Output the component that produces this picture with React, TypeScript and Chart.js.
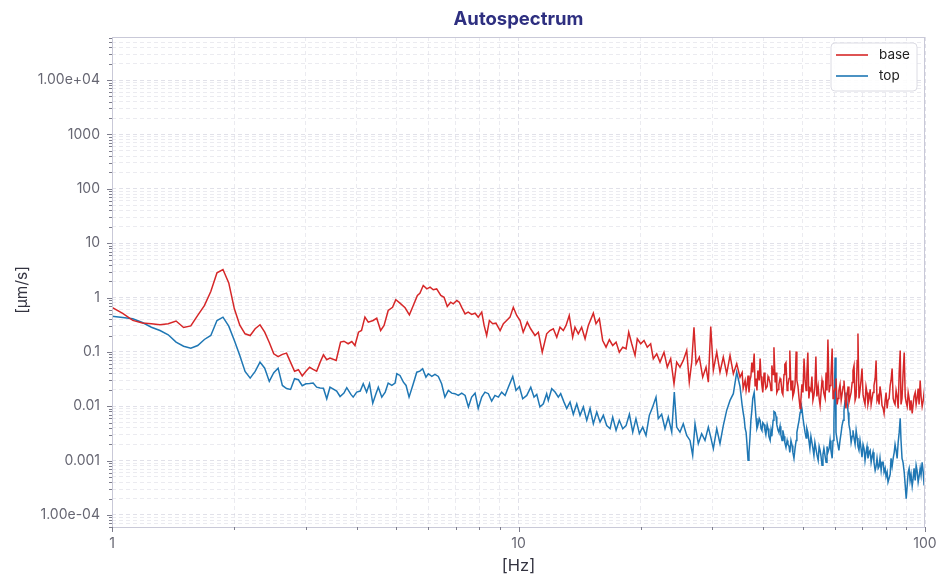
import React, { useEffect, useRef } from "react";
import { Chart, registerables } from "chart.js";

Chart.register(...registerables);

const chartTitle = "Autospectrum";
const xAxisTitle = "[Hz]";
const yAxisTitle = "[μm/s]";
const seriesLabels = ["base", "top"];
const seriesColors = ["#d62728", "#1f77b4"];

const xMajorTicks = [1, 10, 100];
const xTickLabels = ["1", "10", "100"];
const yMajorTicks = [1e-4, 1e-3, 0.01, 0.1, 1, 10, 100, 1000, 1e4];
const yTickLabels = ["1.00e-04", "0.001", "0.01", "0.1", "1", "10", "100", "1000", "1.00e+04"];
const xRange = [1, 100];
const yRange = [6e-5, 6.2e4];

// 1 Hz – 35 Hz, base
const baseLoHz = [
  1.0, 1.0625, 1.125, 1.1875, 1.25, 1.3125, 1.375, 1.4375, 1.5, 1.5625,
  1.625, 1.6875, 1.75, 1.8125, 1.875, 1.9375, 2.0, 2.0625, 2.125, 2.1875,
  2.25, 2.3125, 2.375, 2.4375, 2.5, 2.5625, 2.625, 2.6875, 2.75, 2.8125,
  2.875, 2.9375, 3.0, 3.0625, 3.125, 3.1875, 3.25, 3.3125, 3.375, 3.4375,
  3.56, 3.65, 3.72, 3.81, 3.89, 3.96, 4.04, 4.11, 4.19, 4.27,
  4.39, 4.48, 4.58, 4.67, 4.78, 4.9, 4.99, 5.11, 5.26, 5.39,
  5.51, 5.64, 5.72, 5.83, 5.95, 6.06, 6.17, 6.29, 6.44, 6.56,
  6.68, 6.81, 6.91, 7.05, 7.15, 7.25, 7.39, 7.52, 7.67, 7.82,
  7.96, 8.12, 8.23, 8.35, 8.48, 8.64, 8.8, 9.01, 9.18, 9.35,
  9.53, 9.71, 9.9, 10.09, 10.27, 10.51, 10.71, 10.98, 11.19, 11.44,
  11.73, 11.95,
  12.18, 12.42, 12.65, 12.89, 13.09, 13.33, 13.59, 13.77, 14.03, 14.3,
  14.58, 14.85, 15.14, 15.28, 15.51, 15.81, 16.11, 16.42, 16.73, 17.05,
  17.38, 17.7, 18.05, 18.39, 18.67, 18.99, 19.35, 19.6, 19.98, 20.36,
  20.74, 21.14, 21.46, 21.88, 22.29, 22.8, 23.23, 23.68, 24.13, 24.5,
  24.96, 25.43, 25.93, 26.31, 26.68, 27.02, 27.34, 27.85, 28.39, 28.93,
  29.31, 29.71, 30.15, 30.74, 31.31, 31.9, 32.52, 33.14, 33.77, 34.42,
  35.07,
];

const baseLoAmp = [
  0.66, 0.51, 0.38, 0.34, 0.33, 0.315, 0.33, 0.37, 0.28, 0.3,
  0.47, 0.71, 1.29, 2.84, 3.27, 1.86, 0.62, 0.31, 0.215, 0.2,
  0.266, 0.315, 0.23, 0.149, 0.092, 0.082, 0.09, 0.095, 0.064, 0.044,
  0.047, 0.036, 0.044, 0.052, 0.0475, 0.044, 0.064, 0.0885, 0.0716, 0.077,
  0.0695, 0.151, 0.157, 0.141, 0.155, 0.131, 0.23, 0.247, 0.435, 0.352,
  0.378, 0.416, 0.247, 0.306, 0.577, 0.66, 0.908, 0.786, 0.647, 0.481,
  0.713, 1.09, 1.2, 1.66, 1.44, 1.55, 1.39, 1.44, 1.09, 1.01,
  0.683, 0.82, 0.766, 0.88, 0.82, 0.66, 0.5, 0.537, 0.487, 0.514,
  0.435, 0.537, 0.306, 0.2, 0.378, 0.329, 0.337, 0.247, 0.329, 0.378,
  0.435, 0.66, 0.467, 0.378, 0.23, 0.352, 0.266, 0.2, 0.23, 0.0986,
  0.215, 0.247,
  0.266, 0.186, 0.284, 0.247, 0.306, 0.467, 0.186, 0.284, 0.215, 0.284,
  0.174, 0.306, 0.435, 0.514, 0.329, 0.406, 0.162, 0.122, 0.167, 0.131,
  0.151, 0.0986, 0.122, 0.114, 0.23, 0.141, 0.086, 0.174, 0.141, 0.162,
  0.122, 0.141, 0.0747, 0.092, 0.0647, 0.0986, 0.0524, 0.0747, 0.0259, 0.0647,
  0.0524, 0.0695, 0.106, 0.0277, 0.0647, 0.284, 0.0604, 0.08, 0.0343, 0.0524,
  0.0277, 0.293, 0.0455, 0.0986, 0.0423, 0.08, 0.0396, 0.086, 0.0396, 0.0604,
  0.0343,
];

// 1 Hz – 35 Hz, top
const topLoHz = [
  1.0, 1.0625, 1.125, 1.1875, 1.25, 1.3125, 1.375, 1.4375, 1.5, 1.5625,
  1.625, 1.6875, 1.75, 1.8125, 1.875, 1.9375, 2.0, 2.0625, 2.125, 2.1875,
  2.25, 2.3125, 2.375, 2.4375, 2.5, 2.5625, 2.625, 2.6875, 2.75, 2.8125,
  2.875, 2.9375, 3.0, 3.0625, 3.125, 3.1875, 3.25, 3.3125, 3.375, 3.4375,
  3.57, 3.64, 3.72, 3.78, 3.87, 3.92, 4.0, 4.08, 4.15, 4.23,
  4.3, 4.38, 4.46, 4.52, 4.61, 4.7, 4.78, 4.88, 4.97, 5.02,
  5.11, 5.21, 5.29, 5.38, 5.51, 5.62, 5.72, 5.81, 5.92, 6.0,
  6.12, 6.23, 6.35, 6.47, 6.59, 6.72, 6.85, 6.98, 7.11, 7.25,
  7.39, 7.53, 7.67, 7.82, 7.96, 8.12, 8.27, 8.43, 8.59, 8.75,
  8.92, 9.09, 9.27, 9.44, 9.68, 9.86, 10.05, 10.24, 10.48, 10.72,
  10.92, 11.09, 11.29, 11.51, 11.73,
  11.84, 12.07, 12.3, 12.53, 12.7, 12.94, 13.14, 13.39, 13.64, 13.91,
  14.17, 14.44, 14.72, 15.0, 15.28, 15.58, 15.87, 16.17, 16.48, 16.8,
  17.05, 17.38, 17.7, 18.05, 18.39, 18.74, 19.1, 19.45, 19.83, 20.21,
  20.59, 20.98, 21.38, 21.79, 22.07, 22.5, 22.93, 23.36, 23.82, 24.17,
  24.5, 24.96, 25.43, 25.93, 26.42, 26.82, 27.18, 27.69, 28.22, 28.76,
  29.31, 29.71, 30.15, 30.74, 31.31, 31.9, 32.52, 33.14, 33.77, 34.42,
  35.07,
];

const topLoAmp = [
  0.453, 0.429, 0.406, 0.347, 0.284, 0.247, 0.206, 0.151, 0.127, 0.117,
  0.131, 0.169, 0.2, 0.378, 0.435, 0.297, 0.162, 0.086, 0.0436, 0.0329,
  0.0436, 0.0647, 0.0501, 0.0286, 0.0413, 0.0501, 0.0241, 0.0212, 0.0204, 0.032,
  0.0307, 0.0238, 0.0259, 0.0262, 0.0266, 0.0224, 0.0217, 0.0215, 0.0137, 0.0224,
  0.019, 0.0151, 0.0174, 0.0219, 0.0165, 0.0147, 0.0182, 0.019, 0.0259, 0.0182,
  0.0259, 0.0114, 0.017, 0.0224, 0.0147, 0.0182, 0.0266, 0.0241, 0.0266, 0.0396,
  0.0368, 0.0277, 0.0241, 0.0147, 0.0259, 0.0423, 0.0442, 0.0489, 0.0343, 0.0396,
  0.0353, 0.0384, 0.0353, 0.0259, 0.0147, 0.0195, 0.0174, 0.017, 0.0158, 0.0174,
  0.0158, 0.0097, 0.0147, 0.0174, 0.0091, 0.0147, 0.0182, 0.017, 0.0124, 0.0158,
  0.0147, 0.0182, 0.0158, 0.0224, 0.0353, 0.0195, 0.0231, 0.0137, 0.0158, 0.0224,
  0.0147, 0.0165, 0.0097, 0.0111, 0.017,
  0.0128, 0.021, 0.0182, 0.0147, 0.017, 0.0119, 0.0091, 0.0119, 0.0071, 0.0111,
  0.0068, 0.0097, 0.0055, 0.0091, 0.00476, 0.0078, 0.0051, 0.0068, 0.0044, 0.00386,
  0.0063, 0.0036, 0.0055, 0.00386, 0.0044, 0.0071, 0.00334, 0.0059, 0.00313, 0.00413,
  0.0029, 0.0068, 0.0097, 0.0147, 0.0059, 0.0071, 0.00386, 0.0063, 0.00334, 0.0182,
  0.00413, 0.00334, 0.00476, 0.0029, 0.00235, 0.00125, 0.00476, 0.00205, 0.00313, 0.00235,
  0.00413, 0.0027, 0.00166, 0.00386, 0.00205, 0.0044, 0.0084, 0.0128, 0.017, 0.0423,
  0.0231,
];

// 35.5 Hz – 100 Hz, shared frequencies for both series
const hiHz = [
  35.5, 35.7, 35.9, 36.1, 36.3, 36.5, 36.7, 36.9, 37.1, 37.3,
  37.5, 37.7, 38.0, 38.2, 38.4, 38.6, 38.8, 39.1, 39.3, 39.5,
  39.7, 39.9, 40.2, 40.4, 40.6, 40.9, 41.1, 41.3, 41.6, 41.8,
  42.0, 42.3, 42.5, 42.8, 43.0, 43.2, 43.5, 43.7, 44.0, 44.2,
  44.5, 44.7, 45.0, 45.2, 45.5, 45.8, 46.0, 46.3, 46.5, 46.8,
  47.1, 47.3, 47.6, 47.9, 48.2, 48.4, 48.7, 49.0, 49.3, 49.5,
  49.8, 50.1, 50.4, 50.7, 51.0, 51.2, 51.5, 51.8, 52.1, 52.4,
  52.7, 53.0, 53.3, 53.6, 53.9, 54.2, 54.6, 54.9, 55.2, 55.5,
  55.8, 56.1, 56.4, 56.8, 57.1, 57.4, 57.7, 58.1, 58.4, 58.7,
  59.1, 59.4, 59.7, 60.1, 60.4, 60.8, 61.1, 61.4, 61.8, 62.2,
  62.5, 62.9, 63.2, 63.6, 63.9, 64.3, 64.7, 65.0, 65.4, 65.8,
  66.2, 66.5, 66.9, 67.3, 67.7, 68.1, 68.4, 68.8, 69.2, 69.6,
  70.0, 70.4, 70.8, 71.2, 71.6, 72.0, 72.4, 72.9, 73.3, 73.7,
  74.1, 74.5, 74.9, 75.4, 75.8, 76.2, 76.7, 77.1, 77.5, 78.0,
  78.4, 78.9, 79.3, 79.8, 80.2, 80.7, 81.1, 81.6, 82.1, 82.5,
  83.0, 83.5, 84.0, 84.4, 84.9, 85.4, 85.9, 86.4, 86.9, 87.3,
  87.8, 88.3, 88.9, 89.4, 89.9, 90.4, 90.9, 91.4, 91.9, 92.4,
  93.0, 93.5, 94.0, 94.6, 95.1, 95.6, 96.2, 96.7, 97.3, 97.8,
  98.4, 99.0, 99.5, 100,
];

const baseHiAmp = [
  0.0418, 0.0212, 0.0252, 0.0298, 0.0195, 0.0252, 0.0368, 0.0179, 0.0298, 0.0353,
  0.0638, 0.0418, 0.0935, 0.0231, 0.0324, 0.0195, 0.0455, 0.0298, 0.0756, 0.0353,
  0.0241, 0.0179, 0.0418, 0.0298, 0.0212, 0.0231, 0.0353, 0.0324, 0.0263, 0.0195,
  0.0562, 0.0384, 0.121, 0.0274, 0.0418, 0.0179, 0.0204, 0.0252, 0.0324, 0.0298,
  0.0179, 0.0165, 0.0384, 0.0586, 0.0638, 0.0195, 0.0241, 0.0324, 0.106, 0.0195,
  0.0298, 0.0151, 0.0179, 0.0252, 0.102, 0.0298, 0.0231, 0.0139, 0.0091, 0.0128,
  0.0252, 0.0179, 0.0756, 0.0298, 0.0195, 0.0384, 0.0975, 0.0139, 0.0212, 0.0195,
  0.0353, 0.0128, 0.0158, 0.0231, 0.0823, 0.0151, 0.0231, 0.0139, 0.0103, 0.0179,
  0.0298, 0.0231, 0.0172, 0.0139, 0.0418, 0.0195, 0.169, 0.0179, 0.0241, 0.0353,
  0.1155, 0.0139, 0.0179, 0.0212, 0.0324, 0.0108, 0.0139, 0.0195, 0.0252, 0.0128,
  0.0165, 0.0231, 0.0298, 0.0139, 0.0091, 0.0165, 0.0231, 0.0117, 0.0145, 0.0179,
  0.0274, 0.0455, 0.0562, 0.0128, 0.0151, 0.0695, 0.218, 0.0139, 0.0195, 0.0298,
  0.0495, 0.0165, 0.0128, 0.0108, 0.0231, 0.0179, 0.0108, 0.0139, 0.0204, 0.0108,
  0.0139, 0.0179, 0.0241, 0.0324, 0.0695, 0.0128, 0.0151, 0.0108, 0.0231, 0.0165,
  0.0103, 0.0091, 0.0074, 0.0128, 0.0179, 0.0091, 0.0128, 0.0139, 0.0241, 0.0298,
  0.0495, 0.0139, 0.0117, 0.0108, 0.0195, 0.0151, 0.0091, 0.0418, 0.106, 0.0108,
  0.0139, 0.0384, 0.0975, 0.0151, 0.0117, 0.0099, 0.0179, 0.0139, 0.0084, 0.0128,
  0.0074, 0.0108, 0.0151, 0.0179, 0.0108, 0.0139, 0.0212, 0.0108, 0.0298, 0.0151,
  0.0099, 0.0128, 0.0179, 0.0139,
];

const topHiAmp = [
  0.0103, 0.0077, 0.006, 0.0039, 0.0033, 0.0019, 0.00101, 0.00142, 0.0026, 0.0055,
  0.0084, 0.0139, 0.0179, 0.0103, 0.006, 0.0039, 0.0044, 0.006, 0.0055, 0.0039,
  0.0036, 0.005, 0.0046, 0.0036, 0.003, 0.0046, 0.0039, 0.0028, 0.00235, 0.0036,
  0.0028, 0.0055, 0.008, 0.0077, 0.0065, 0.0046, 0.0036, 0.0033, 0.0043, 0.003,
  0.00235, 0.0036, 0.0028, 0.00216, 0.00175, 0.00235, 0.00199, 0.00182, 0.00142, 0.00235,
  0.0019, 0.00142, 0.0011, 0.00168, 0.00235, 0.0033, 0.0043, 0.0055, 0.0077, 0.0117,
  0.0091, 0.006, 0.0044, 0.0033, 0.0026, 0.0039, 0.0033, 0.00235, 0.00168, 0.0028,
  0.00216, 0.00168, 0.00125, 0.00216, 0.00168, 0.0013, 0.00101, 0.00182, 0.00154, 0.00119,
  0.00082, 0.0013, 0.00168, 0.00119, 0.00093, 0.00182, 0.00142, 0.00168, 0.00235, 0.00154,
  0.0011, 0.00235, 0.0055, 0.079, 0.0033, 0.00235, 0.0019, 0.00154, 0.00235, 0.0033,
  0.0044, 0.0055, 0.0084, 0.0128, 0.0179, 0.0117, 0.0077, 0.0046, 0.0036, 0.00216,
  0.0028, 0.0036, 0.0026, 0.00199, 0.0036, 0.0026, 0.00182, 0.00154, 0.00235, 0.00168,
  0.00115, 0.00199, 0.00168, 0.00101, 0.00142, 0.00182, 0.0011, 0.00142, 0.00154, 0.00093,
  0.00119, 0.00142, 0.00093, 0.00066, 0.00078, 0.0011, 0.00072, 0.00078, 0.0011, 0.00066,
  0.00093, 0.00093, 0.00061, 0.00072, 0.00051, 0.00061, 0.0004, 0.00047, 0.00056, 0.0011,
  0.00078, 0.0011, 0.00142, 0.00199, 0.00154, 0.0011, 0.00216, 0.0033, 0.006, 0.00235,
  0.0011, 0.00093, 0.00061, 0.00035, 0.0002, 0.00034, 0.00061, 0.00072, 0.00043, 0.00056,
  0.00034, 0.00047, 0.00072, 0.00043, 0.00082, 0.00066, 0.0004, 0.00051, 0.00072, 0.00054,
  0.00093, 0.00061, 0.00035, 0.00066,
];

const FONT = "Inter, 'Noto Sans', sans-serif";

function logTicks(min: number, max: number): number[] {
  const out: number[] = [];
  const e0 = Math.floor(Math.log10(min));
  const e1 = Math.ceil(Math.log10(max));
  for (let e = e0; e <= e1; e++) {
    for (let m = 1; m <= 9; m++) {
      const v = Number((m * Math.pow(10, e)).toPrecision(8));
      if (v >= min * 0.9999 && v <= max * 1.0001) out.push(v);
    }
  }
  return out;
}

function isMajor(v: number, majors: number[]) {
  return majors.findIndex((m) => Math.abs(m - v) / m < 1e-6);
}

function toPoints(hz: number[], amp: number[]) {
  return hz.map((f, i) => ({ x: f, y: amp[i] }));
}

const decorPlugin = {
  id: "decor",
  afterDraw(chart: any) {
    const { ctx, chartArea } = chart;
    const { left, right, top, bottom } = chartArea;
    ctx.save();
    ctx.strokeStyle = "#c9c9d8";
    ctx.lineWidth = 1;
    ctx.setLineDash([]);
    ctx.strokeRect(left + 0.5, top + 0.5, right - left - 1, bottom - top);

    ctx.strokeStyle = "#7d7d8c";
    ctx.lineWidth = 1;
    const ys = chart.scales.y;
    ys.ticks.forEach((t: any) => {
      const py = Math.round(ys.getPixelForValue(t.value)) + 0.5;
      const len = isMajor(t.value, yMajorTicks) >= 0 ? 5 : 3;
      ctx.beginPath();
      ctx.moveTo(left - len, py);
      ctx.lineTo(left, py);
      ctx.stroke();
    });
    const xs = chart.scales.x;
    xs.ticks.forEach((t: any) => {
      const px = Math.round(xs.getPixelForValue(t.value)) + 0.5;
      const len = isMajor(t.value, xMajorTicks) >= 0 ? 5 : 3;
      ctx.beginPath();
      ctx.moveTo(px, bottom);
      ctx.lineTo(px, bottom + len);
      ctx.stroke();
    });

    ctx.fillStyle = "#2e2f80";
    ctx.font = `bold 18.5px ${FONT}`;
    ctx.textAlign = "center";
    ctx.textBaseline = "middle";
    ctx.fillText(chartTitle, (left + right) / 2, 19);

    ctx.fillStyle = "#333340";
    ctx.font = `16.5px ${FONT}`;
    ctx.fillText(xAxisTitle, (left + right) / 2, 566);
    ctx.save();
    ctx.translate(22, 290);
    ctx.rotate(-Math.PI / 2);
    ctx.font = `15.5px ${FONT}`;
    ctx.fillText(yAxisTitle, 0, 0);
    ctx.restore();

    const bw = 86, bh = 48;
    const bx = right - 8 - bw, by = top + 6;
    const r = 4;
    ctx.beginPath();
    ctx.moveTo(bx + r, by);
    ctx.lineTo(bx + bw - r, by);
    ctx.quadraticCurveTo(bx + bw, by, bx + bw, by + r);
    ctx.lineTo(bx + bw, by + bh - r);
    ctx.quadraticCurveTo(bx + bw, by + bh, bx + bw - r, by + bh);
    ctx.lineTo(bx + r, by + bh);
    ctx.quadraticCurveTo(bx, by + bh, bx, by + bh - r);
    ctx.lineTo(bx, by + r);
    ctx.quadraticCurveTo(bx, by, bx + r, by);
    ctx.closePath();
    ctx.fillStyle = "rgba(255,255,255,0.9)";
    ctx.fill();
    ctx.strokeStyle = "#dcdce4";
    ctx.stroke();
    ctx.font = `13.5px ${FONT}`;
    ctx.textAlign = "left";
    seriesLabels.forEach((lab, i) => {
      const ly = by + 12 + i * 21;
      ctx.strokeStyle = seriesColors[i];
      ctx.lineWidth = 1.6;
      ctx.beginPath();
      ctx.moveTo(bx + 5, ly);
      ctx.lineTo(bx + 37, ly);
      ctx.stroke();
      ctx.fillStyle = "#222";
      ctx.fillText(lab, bx + 48, ly);
    });
    ctx.restore();
  },
};

export default function App() {
  const ref = useRef<HTMLCanvasElement>(null);
  useEffect(() => {
    document.body.style.margin = "0";
    const yTickValues = logTicks(yRange[0], yRange[1]);
    const xTickValues = logTicks(xRange[0], xRange[1]);
    const gridColor = (majors: number[]) => (c: any) =>
      c.tick && isMajor(c.tick.value, majors) >= 0 ? "rgba(200,200,215,0.55)" : "rgba(210,210,222,0.45)";
    const chart = new Chart(ref.current as HTMLCanvasElement, {
      type: "line",
      data: {
        datasets: [
          {
            label: seriesLabels[0],
            data: [...toPoints(baseLoHz, baseLoAmp), ...toPoints(hiHz, baseHiAmp)],
            borderColor: seriesColors[0],
            backgroundColor: seriesColors[0],
            borderWidth: 1.5,
            pointRadius: 0,
            tension: 0,
          },
          {
            label: seriesLabels[1],
            data: [...toPoints(topLoHz, topLoAmp), ...toPoints(hiHz, topHiAmp)],
            borderColor: seriesColors[1],
            backgroundColor: seriesColors[1],
            borderWidth: 1.5,
            pointRadius: 0,
            tension: 0,
          },
        ],
      },
      options: {
        responsive: false,
        animation: false,
        devicePixelRatio: 1,
        layout: { padding: { top: 37, right: 24, left: 0, bottom: 0 } },
        plugins: { legend: { display: false }, title: { display: false }, tooltip: { enabled: false } },
        scales: {
          x: {
            type: "logarithmic",
            min: xRange[0],
            max: xRange[1],
            afterBuildTicks: (s: any) => {
              s.ticks = xTickValues.map((v) => ({ value: v }));
            },
            afterFit: (s: any) => {
              s.height = 60;
            },
            ticks: {
              autoSkip: false,
              maxRotation: 0,
              padding: 8,
              color: "#666672",
              font: { family: FONT, size: 14 },
              callback: (v: any) => {
                const i = isMajor(Number(v), xMajorTicks);
                return i >= 0 ? xTickLabels[i] : "";
              },
            },
            grid: { color: gridColor(xMajorTicks), lineWidth: 1, drawTicks: false },
            border: { display: false, dash: [4, 3] },
          },
          y: {
            type: "logarithmic",
            min: yRange[0],
            max: yRange[1],
            afterBuildTicks: (s: any) => {
              s.ticks = yTickValues.map((v) => ({ value: v }));
            },
            afterFit: (s: any) => {
              s.width = 112;
            },
            ticks: {
              autoSkip: false,
              padding: 12,
              color: "#666672",
              font: { family: FONT, size: 14 },
              callback: (v: any) => {
                const i = isMajor(Number(v), yMajorTicks);
                return i >= 0 ? yTickLabels[i] : "";
              },
            },
            grid: { color: gridColor(yMajorTicks), lineWidth: 1, drawTicks: false },
            border: { display: false, dash: [4, 3] },
          },
        },
      },
      plugins: [decorPlugin],
    } as any);
    return () => chart.destroy();
  }, []);
  return (
    <div style={{ width: 949, height: 587 }}>
      <canvas ref={ref} width={949} height={587} style={{ display: "block", width: 949, height: 587 }} />
    </div>
  );
}
